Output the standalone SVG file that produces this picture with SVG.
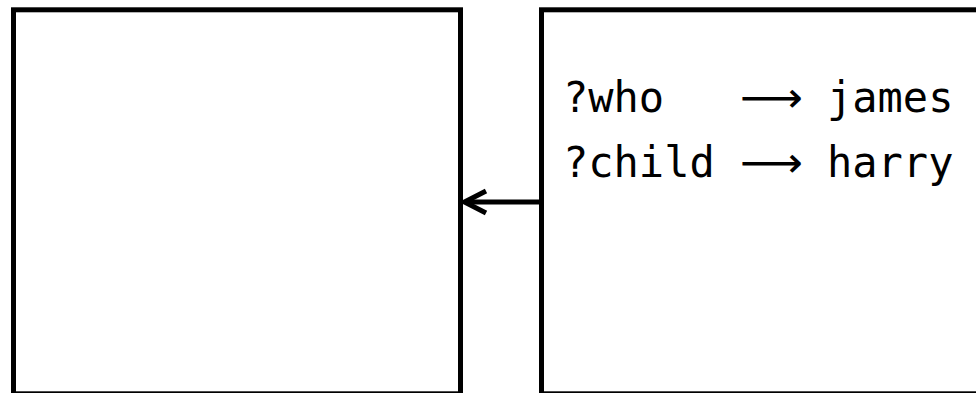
<svg xmlns="http://www.w3.org/2000/svg" width="976" height="393" viewBox="0 0 976 393">
  <style>
    .box { fill: #ffffff; stroke: #000000; stroke-width: 5; }
    .edge { fill: none; stroke: #000000; stroke-width: 5; }
    .mono { font-family: "DejaVu Sans Mono", "Liberation Mono", monospace; font-size: 42px; fill: #000000; }
    .arr { font-family: "DejaVu Sans", "DejaVu Sans Mono", sans-serif; font-size: 42px; fill: #000000; }
  </style>
  <rect width="976" height="393" fill="#ffffff"/>

  <!-- empty target frame -->
  <g id="left-frame">
    <rect class="box" x="13.5" y="9.8" width="447" height="384"/>
  </g>

  <!-- bindings frame -->
  <g id="right-frame">
    <rect class="box" x="541.5" y="9.8" width="500" height="384"/>
    <text class="mono" x="563" y="112">?who</text>
    <text class="arr" x="740" y="112" textLength="63" lengthAdjust="spacingAndGlyphs">⟶</text>
    <text class="mono" x="827" y="112">james</text>
    <text class="mono" x="563" y="177">?child</text>
    <text class="arr" x="740" y="177" textLength="63" lengthAdjust="spacingAndGlyphs">⟶</text>
    <text class="mono" x="827" y="177">harry</text>
  </g>

  <!-- connector -->
  <g id="connectors">
    <line class="edge" x1="539" y1="202" x2="465" y2="202"/>
    <polyline class="edge" points="486,191 464.5,202 486,213"/>
  </g>
</svg>
